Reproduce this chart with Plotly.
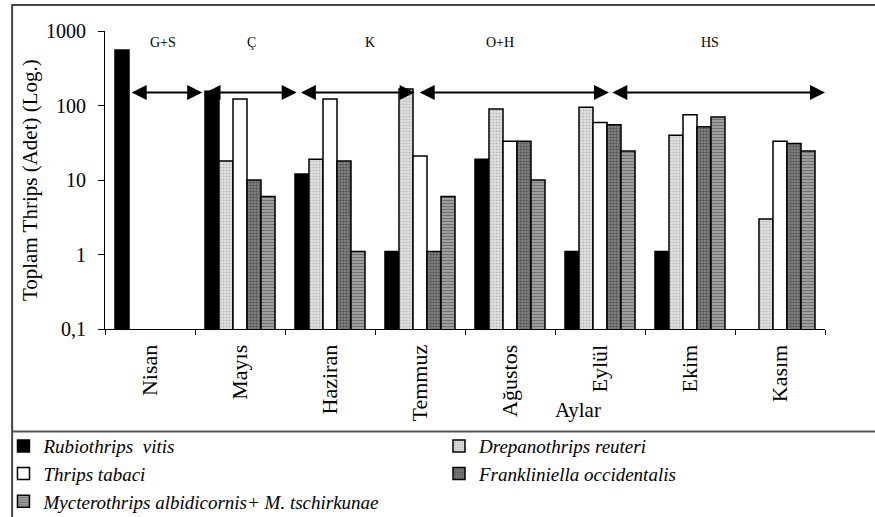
import math
import plotly.graph_objects as go

months = ["Nisan", "Mayıs", "Haziran", "Temmuz", "Ağustos", "Eylül", "Ekim", "Kasım"]

rubiothrips_vitis = [555, 155, 12, 1.1, 19, 1.1, 1.1, None]
drepanothrips_reuteri = [None, 18, 19, 167, 90, 95, 40, 3]
thrips_tabaci = [None, 122, 122, 21, 33, 59, 75, 33]
frankliniella_occidentalis = [None, 10, 18, 1.1, 33, 55, 52, 31]
mycterothrips = [None, 6, 1.1, 6, 10, 24.5, 70, 24.5]

series_names = [
    "Rubiothrips  vitis",
    "Drepanothrips reuteri",
    "Thrips tabaci",
    "Frankliniella occidentalis",
    "Mycterothrips albidicornis+ M. tschirkunae",
]
# legend column of each series (left column / right column)
series_legend = ["legend", "legend2", "legend", "legend2", "legend"]

# phenological periods (positions in category units along the month axis)
period_labels = ["G+S", "Ç", "K", "O+H", "HS"]
period_start = [-0.22, 0.60, 1.66, 2.98, 5.12]
period_end = [0.58, 1.63, 2.94, 5.10, 7.50]
period_label_x = [0.14, 1.13, 2.44, 3.89, 6.22]
arrow_level = 150
label_level = 710

y_tickvals = [0.1, 1, 10, 100, 1000]
y_ticktext = ["0,1", "1", "10", "100", "1000"]

FONT = "Liberation Serif"

styles = [
    dict(color="black", pattern=dict(shape="")),
    dict(color="#d0d0d0", pattern=dict(shape=".", fgcolor="#8a8a8a", bgcolor="#e2e2e2", size=3, solidity=0.35)),
    dict(color="white", pattern=dict(shape="")),
    dict(color="#5a5a5a", pattern=dict(shape=".", fgcolor="#222222", bgcolor="#8a8a8a", size=3, solidity=0.5)),
    dict(color="#8a8a8a", pattern=dict(shape="-", fgcolor="#3a3a3a", bgcolor="#a8a8a8", size=3, solidity=0.45)),
]

data = [rubiothrips_vitis, drepanothrips_reuteri, thrips_tabaci,
        frankliniella_occidentalis, mycterothrips]

fig = go.Figure()
for name, vals, st, lg in zip(series_names, data, styles, series_legend):
    fig.add_trace(go.Bar(
        x=months, y=vals, name=name, legend=lg,
        marker=dict(color=st["color"], pattern=st["pattern"],
                    line=dict(color="black", width=1.5)),
    ))

annotations = []
for lab, s, e, lx in zip(period_labels, period_start, period_end, period_label_x):
    annotations.append(dict(
        x=e, y=math.log10(arrow_level), xref="x", yref="y",
        ax=s, ay=math.log10(arrow_level), axref="x", ayref="y",
        text="", showarrow=True, arrowside="end+start",
        arrowhead=2, startarrowhead=2, arrowsize=1.5, startarrowsize=1.5,
        arrowwidth=2, arrowcolor="black", standoff=0, startstandoff=0,
    ))
    annotations.append(dict(
        x=lx, y=math.log10(label_level), xref="x", yref="y",
        text=lab, showarrow=False, font=dict(family=FONT, size=14, color="black"),
        xanchor="center", yanchor="middle",
    ))

# axis titles
annotations.append(dict(
    x=-0.104, y=0.5, xref="paper", yref="paper", text="Toplam Thrips (Adet) (Log.)",
    textangle=-90, showarrow=False, font=dict(family=FONT, size=21, color="black"),
    xanchor="center", yanchor="middle",
))
annotations.append(dict(
    x=0.657, y=-0.272, xref="paper", yref="paper", text="Aylar",
    showarrow=False, font=dict(family=FONT, size=21, color="black"),
    xanchor="center", yanchor="middle",
))

shapes = [
    dict(type="rect", xref="paper", yref="paper", x0=-0.129, x1=1.075, y0=-0.64, y1=1.087,
         line=dict(color="#444444", width=2), fillcolor="rgba(0,0,0,0)", layer="below"),
    dict(type="line", xref="paper", yref="paper", x0=-0.129, x1=1.075, y0=-0.344, y1=-0.344,
         line=dict(color="#555555", width=2)),
]

legend_font = dict(family=FONT, size=19, color="black", style="italic")

fig.update_layout(
    width=875, height=517,
    margin=dict(l=105, r=50, t=31, b=188, autoexpand=False),
    paper_bgcolor="white", plot_bgcolor="white",
    barmode="group", bargap=0.222, bargroupgap=0,
    font=dict(family=FONT, color="black"),
    annotations=annotations, shapes=shapes,
    showlegend=True,
    legend=dict(
        orientation="v", x=-0.141, xanchor="left", y=-0.329, yanchor="top",
        traceorder="normal", font=legend_font,
        bgcolor="rgba(0,0,0,0)", itemclick=False, tracegroupgap=0,
    ),
    legend2=dict(
        orientation="v", x=0.4639, xanchor="left", y=-0.329, yanchor="top",
        traceorder="normal", font=legend_font,
        bgcolor="rgba(0,0,0,0)", itemclick=False, tracegroupgap=0,
    ),
    xaxis=dict(
        type="category", categoryorder="array", categoryarray=months,
        range=[-0.5, 7.5], tickson="boundaries", ticks="outside", ticklen=5,
        tickcolor="black", tickangle=-90, showline=True, linecolor="black",
        linewidth=1, showgrid=False, tickfont=dict(family=FONT, size=22, color="black"),
        ticklabelstandoff=6, automargin=False,
    ),
    yaxis=dict(
        type="log", range=[-1, 3], tickmode="array", tickvals=y_tickvals,
        ticktext=y_ticktext, ticks="outside", ticklen=6, tickcolor="black",
        showline=True, linecolor="black", linewidth=1, showgrid=False,
        zeroline=False, tickfont=dict(family=FONT, size=20, color="black"),
        ticklabelstandoff=8, automargin=False,
    ),
)

fig.write_html("out.html")
